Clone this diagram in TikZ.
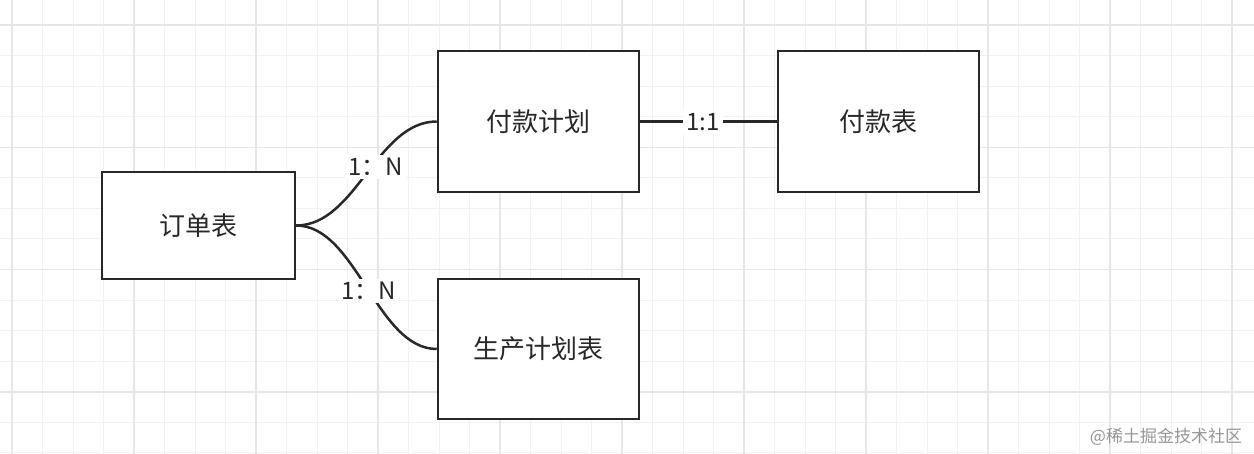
\documentclass[tikz,border=0pt]{standalone}
\usepackage{fontspec}
\setmainfont{Noto Sans CJK SC}
\definecolor{gridminor}{RGB}{242,242,242}
\definecolor{gridmajor}{RGB}{230,230,230}
\definecolor{ink}{RGB}{40,40,40}
\definecolor{wm}{RGB}{150,150,150}
\tikzset{
  entity/.style={draw=ink, line width=2.5pt, fill=white, inner sep=0pt, font=\fontsize{26}{30}\selectfont, text=ink},
  conn/.style={draw=ink, line width=2.5pt},
  rel/.style={fill=white, inner sep=3pt, font=\fontsize{24}{28}\selectfont, text=ink},
}
\begin{document}
\begin{tikzpicture}[x=1pt,y=-1pt]
\useasboundingbox (0,0) rectangle (1254,454);
\fill[white] (0,0) rectangle (1254,454);
% grid
\foreach \k in {-1,...,41} {
  \pgfmathsetmacro{\gx}{12+30.5*\k}
  \draw[gridminor, line width=1pt] (\gx,0) -- (\gx,454);
}
\foreach \k in {-1,...,15} {
  \pgfmathsetmacro{\gy}{25+30.57*\k}
  \draw[gridminor, line width=1pt] (0,\gy) -- (1254,\gy);
}
\foreach \k in {0,...,10} {
  \pgfmathsetmacro{\gx}{12+122*\k}
  \draw[gridmajor, line width=1.5pt] (\gx,0) -- (\gx,454);
}
\foreach \k in {0,...,3} {
  \pgfmathsetmacro{\gy}{25+122.3*\k}
  \draw[gridmajor, line width=1.5pt] (0,\gy) -- (1254,\gy);
}
% entities
\node[entity, minimum width=193pt, minimum height=107pt] (dd) at (198.5,225.5) {订单表};
\node[entity, minimum width=201pt, minimum height=141pt] (fkjh) at (538.5,121.5) {付款计划};
\node[entity, minimum width=201pt, minimum height=141pt] (fkb) at (878.5,121.5) {付款表};
\node[entity, minimum width=201pt, minimum height=140pt] (scjh) at (538.5,349) {生产计划表};
% connectors
\draw[conn] (dd.east) .. controls +(60,0) and +(-60,0) .. (fkjh.west);
\draw[conn] (dd.east) .. controls +(60,0) and +(-60,0) .. (scjh.west);
\draw[conn] (fkjh.east) -- (fkb.west);
% labels
\node[rel] (l1) at (376,167) {1：N};
\node[rel] (l2) at (369,291) {1：N};
\node[rel] (l3) at (703,122) {1:1};
% watermark
\node[text=wm, font=\fontsize{17}{20}\selectfont, inner sep=0pt] (wmk) at (1166,437) {@稀土掘金技术社区};
\end{tikzpicture}
\end{document}
